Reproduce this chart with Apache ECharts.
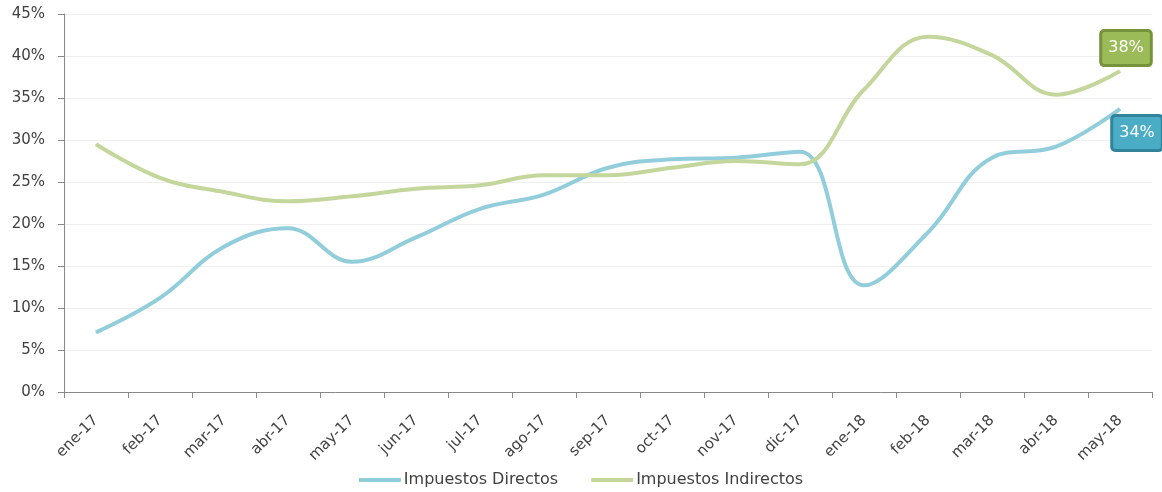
<!DOCTYPE html>
<html>
<head>
<meta charset="utf-8">
<script src="https://cdn.jsdelivr.net/npm/echarts@6/dist/echarts.min.js"></script>
<style>
html, body { margin: 0; padding: 0; background: #fff; }
#chart { width: 1162px; height: 492px; }
</style>
</head>
<body>
<div id="chart"></div>
<script>
var months = ['ene-17','feb-17','mar-17','abr-17','may-17','jun-17','jul-17','ago-17','sep-17','oct-17','nov-17','dic-17','ene-18','feb-18','mar-18','abr-18','may-18'];
var directos = [7.1, 11.2, 17.3, 19.5, 15.5, 18.4, 21.8, 23.5, 26.7, 27.7, 27.9, 28.6, 12.7, 19.0, 27.9, 29.2, 33.7];
var indirectos = [29.5, 25.5, 23.8, 22.7, 23.3, 24.2, 24.6, 25.8, 25.8, 26.7, 27.5, 27.1, 36.0, 42.3, 40.1, 35.4, 38.2];
var yTicks = [0, 45, 5];

var font = 'DejaVu Sans';

function withEndLabel(values, fill, border, offset) {
    var out = [];
    for (var i = 0; i < values.length; i++) {
        if (i === values.length - 1) {
            out.push({
                value: values[i],
                label: {
                    show: true,
                    position: 'inside',
                    offset: offset,
                    formatter: function (p) { return Math.round(p.value) + '%'; },
                    color: '#fff',
                    fontFamily: font,
                    fontSize: 16,
                    backgroundColor: fill,
                    borderColor: border,
                    borderWidth: 3,
                    borderRadius: 2,
                    padding: [9, 6, 7, 6]
                }
            });
        } else {
            out.push(values[i]);
        }
    }
    return out;
}

var myChart = echarts.init(document.getElementById('chart'));
var option = {
    animation: false,
    textStyle: { fontFamily: font },
    grid: { left: 64, right: 10, top: 14, bottom: 100 },
    legend: {
        bottom: -1,
        left: 'center',
        icon: 'rect',
        itemWidth: 42,
        itemHeight: 4,
        itemGap: 33,
        textStyle: { color: '#404040', fontSize: 16, fontFamily: font, padding: [0, 0, 0, -2] },
        data: ['Impuestos Directos', 'Impuestos Indirectos']
    },
    xAxis: {
        type: 'category',
        boundaryGap: true,
        data: months,
        axisLine: { lineStyle: { color: '#888', width: 1 } },
        axisTick: { show: true, length: 6, lineStyle: { color: '#888' } },
        axisLabel: { rotate: 45, color: '#404040', fontSize: 15, margin: 26, interval: 0 }
    },
    yAxis: {
        type: 'value',
        min: yTicks[0],
        max: yTicks[1],
        interval: yTicks[2],
        axisLine: { show: true, lineStyle: { color: '#888', width: 1 } },
        axisTick: { show: true, length: 6, lineStyle: { color: '#888' } },
        axisLabel: { color: '#404040', fontSize: 15, margin: 19, formatter: '{value}%' },
        splitLine: { lineStyle: { color: '#efefef' } }
    },
    series: [
        {
            name: 'Impuestos Directos',
            type: 'line',
            smooth: 0.4,
            symbol: 'circle',
            symbolSize: 1,
            showSymbol: true,
            itemStyle: { color: '#92cddc' },
            lineStyle: { color: '#92cddc', width: 4 },
            data: withEndLabel(directos, '#4bacc6', '#31849b', [17, 24])
        },
        {
            name: 'Impuestos Indirectos',
            type: 'line',
            smooth: 0.4,
            symbol: 'circle',
            symbolSize: 1,
            showSymbol: true,
            itemStyle: { color: '#c3d69b' },
            lineStyle: { color: '#c3d69b', width: 4 },
            data: withEndLabel(indirectos, '#9bbb59', '#76923c', [6, -23])
        }
    ]
};
myChart.setOption(option);
</script>
</body>
</html>
